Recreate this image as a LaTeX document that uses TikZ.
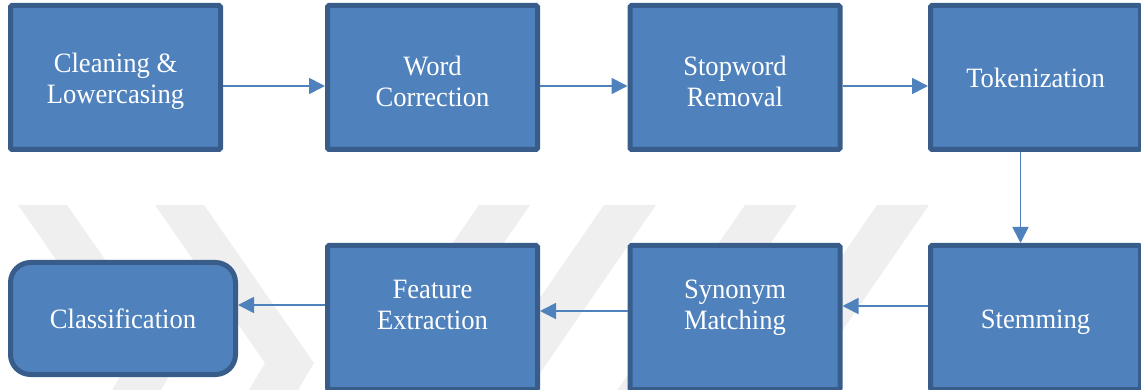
\documentclass[tikz,border=0pt]{standalone}
\usepackage{fontspec}
\setmainfont{Liberation Serif}[FakeStretch=0.95]
\usetikzlibrary{arrows.meta}
\definecolor{boxfill}{HTML}{4F81BD}
\definecolor{boxline}{HTML}{385D8A}
\definecolor{wmgray}{HTML}{EFEFEF}
\newcommand{\lift}[1][28pt]{\rule{0pt}{#1}}
\begin{document}
\begin{tikzpicture}[x=1pt,y=-1pt,
  stage/.style={draw=boxline,fill=boxfill,line width=5pt,rounded corners=1.5pt,
    minimum width=210pt,minimum height=144pt,inner sep=0pt,
    text=white,align=center,font=\fontsize{28}{31}\selectfont},
  flow/.style={draw=boxfill,line width=1.8pt,-{Triangle[length=16pt,width=16pt]}}]
\useasboundingbox (0,0) rectangle (1141,390);

% watermark
\fill[wmgray] (18,205) -- (67,205) -- (177,363) -- (158,395) -- (109,395) -- (128,363) -- cycle;
\fill[wmgray] (155,205) -- (204,205) -- (314,363) -- (295,395) -- (246,395) -- (265,363) -- cycle;
\fill[wmgray] (479,205) -- (530,205) -- (399,395) -- (348,395) -- cycle;
\fill[wmgray] (604,205) -- (656,205) -- (525,395) -- (473,395) -- cycle;
\fill[wmgray] (745,205) -- (797,205) -- (666,395) -- (614,395) -- cycle;
\fill[wmgray] (877,205) -- (929,205) -- (798,395) -- (746,395) -- cycle;

% top row
\node[stage] (clean) at (115.5,77.5) {\lift Cleaning \&\\Lowercasing};
\node[stage] (word) at (432.5,77.5) {\lift Word\\Correction};
\node[stage] (stop) at (735,77.5) {\lift Stopword\\Removal};
\node[stage] (token) at (1035.5,77.5) {Tokenization};

% bottom row
\node[stage] (stem) at (1035.5,317.5) {\lift Stemming};
\node[stage] (syn) at (735,317.5) {\lift[24pt]Synonym\\Matching\\\mbox{}};
\node[stage] (feat) at (432.5,317.5) {\lift[24pt]Feature\\Extraction\\\mbox{}};
\node[stage,minimum width=225pt,minimum height=112pt,rounded corners=20pt] (class) at (123,318.5) {Classification};

% arrows
\draw[flow] ([yshift=-8.5pt]clean.east) -- ([yshift=-8.5pt]word.west);
\draw[flow] ([yshift=-8.5pt]word.east) -- ([yshift=-8.5pt]stop.west);
\draw[flow] ([yshift=-8.5pt]stop.east) -- ([yshift=-8.5pt]token.west);
\draw[flow] ([xshift=-15pt]token.south) -- ([xshift=-15pt]stem.north);
\draw[flow] ([yshift=11.5pt]stem.west) -- ([yshift=11.5pt]syn.east);
\draw[flow] ([yshift=6.5pt]syn.west) -- ([yshift=6.5pt]feat.east);
\draw[flow] ([yshift=12.5pt]feat.west) -- ([yshift=12.5pt]feat.west -| class.east);
\end{tikzpicture}
\end{document}
